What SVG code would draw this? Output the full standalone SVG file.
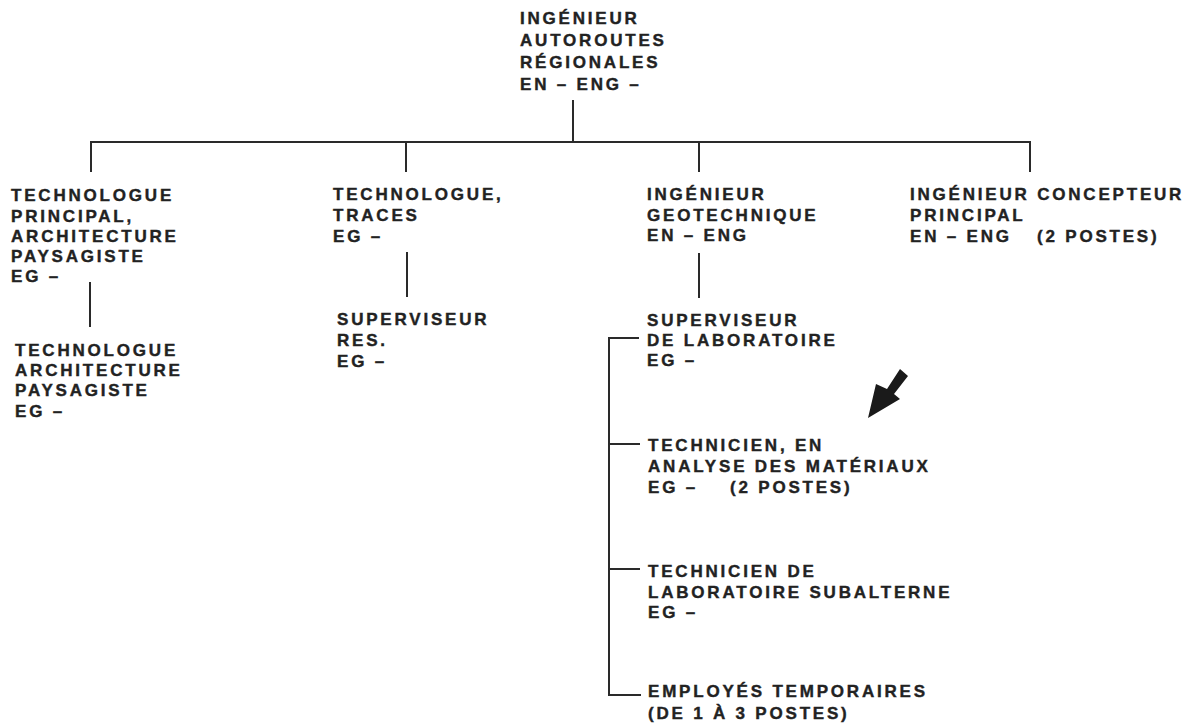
<svg xmlns="http://www.w3.org/2000/svg" width="1189" height="725" viewBox="0 0 1189 725">
<style>
text{font-family:"Liberation Sans",Arial,sans-serif;font-weight:bold;font-size:17px;letter-spacing:2.8px;fill:#222;stroke:#222;stroke-width:0.4}
.c{fill:none;stroke:#2a2a2a;stroke-width:2}
</style>
<rect width="1189" height="725" fill="#fff"/>
<g id="connectors">
<path class="c" d="M573,100V142"/>
<path class="c" d="M91,172V142H1030V172"/>
<path class="c" d="M406,142V172"/>
<path class="c" d="M699,142V172"/>
<path class="c" d="M90,282V327"/>
<path class="c" d="M407,252V297"/>
<path class="c" d="M699,253V298"/>
<path class="c" d="M639,338H609V695H641"/>
<path class="c" d="M609,444H640"/>
<path class="c" d="M609,569H640"/>
</g>
<g id="n-top">
<text x="520" y="24">INGÉNIEUR</text>
<text x="520" y="46">AUTOROUTES</text>
<text x="520" y="68">RÉGIONALES</text>
<text x="520" y="90">EN – ENG –</text>
</g>
<g id="n-tech-principal">
<text x="11" y="201">TECHNOLOGUE</text>
<text x="11" y="222">PRINCIPAL,</text>
<text x="11" y="242">ARCHITECTURE</text>
<text x="11" y="262">PAYSAGISTE</text>
<text x="11" y="282">EG –</text>
</g>
<g id="n-tech-archi">
<text x="15" y="356">TECHNOLOGUE</text>
<text x="15" y="376">ARCHITECTURE</text>
<text x="15" y="396">PAYSAGISTE</text>
<text x="15" y="417">EG –</text>
</g>
<g id="n-tech-traces">
<text x="333" y="200">TECHNOLOGUE,</text>
<text x="333" y="221">TRACES</text>
<text x="333" y="242">EG –</text>
</g>
<g id="n-superviseur-res">
<text x="337" y="325">SUPERVISEUR</text>
<text x="337" y="346">RES.</text>
<text x="337" y="367">EG –</text>
</g>
<g id="n-ing-geo">
<text x="647" y="200">INGÉNIEUR</text>
<text x="647" y="221">GEOTECHNIQUE</text>
<text x="647" y="241">EN – ENG</text>
</g>
<g id="n-ing-concepteur">
<text x="910" y="200">INGÉNIEUR CONCEPTEUR</text>
<text x="910" y="221">PRINCIPAL</text>
<text x="910" y="242">EN – ENG</text>
<text x="1037" y="242">(2 POSTES)</text>
</g>
<g id="n-superviseur-labo">
<text x="647" y="326">SUPERVISEUR</text>
<text x="647" y="346">DE LABORATOIRE</text>
<text x="647" y="366">EG –</text>
</g>
<g id="n-technicien-analyse">
<text x="648" y="451">TECHNICIEN, EN</text>
<text x="648" y="472">ANALYSE DES MATÉRIAUX</text>
<text x="648" y="493">EG –</text>
<text x="730" y="493">(2 POSTES)</text>
</g>
<g id="n-technicien-subalterne">
<text x="648" y="577">TECHNICIEN DE</text>
<text x="648" y="598">LABORATOIRE SUBALTERNE</text>
<text x="648" y="618">EG –</text>
</g>
<g id="n-employes">
<text x="648" y="697">EMPLOYÉS TEMPORAIRES</text>
<text x="648" y="719">(DE 1 À 3 POSTES)</text>
</g>
<g id="arrow">
<polygon points="868,418 876,384 887,389 900,369 908,376 894,394 900,399" fill="#1a1a1a"/>
</g>
</svg>
